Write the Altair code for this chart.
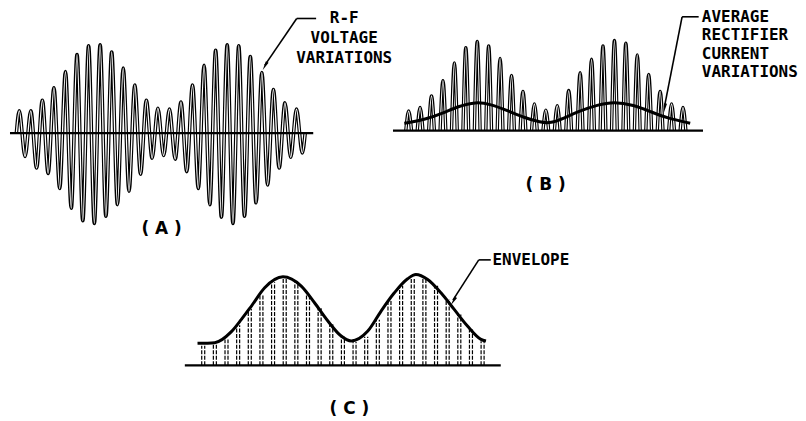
import altair as alt
import pandas as pd

# ---------------- data (normalised amplitude units) ----------------
# (A) R-F voltage: positive peak and negative trough of each of the 25 carrier cycles
a_pos = [0.25, 0.25, 0.37, 0.51, 0.69, 0.88, 0.98, 0.99, 0.91, 0.73, 0.54, 0.37, 0.28,
         0.27, 0.35, 0.54, 0.76, 0.93, 0.99, 0.98, 0.86, 0.68, 0.49, 0.34, 0.27]
a_neg = [0.26, 0.39, 0.45, 0.62, 0.84, 0.98, 1.01, 0.93, 0.80, 0.65, 0.46, 0.28, 0.25,
         0.29, 0.43, 0.62, 0.80, 0.94, 1.01, 0.93, 0.78, 0.58, 0.39, 0.27, 0.22]
# (B) rectified current pulses and their average
b_pulse = [0.22, 0.26, 0.39, 0.56, 0.76, 0.93, 1.00, 0.95, 0.81, 0.62, 0.44, 0.30, 0.23,
           0.28, 0.45, 0.65, 0.80, 0.95, 1.01, 0.98, 0.85, 0.63, 0.44, 0.30, 0.26]
b_avg_t = [-0.13, 1.61, 3.36, 4.53, 6.13, 7.43, 8.89, 10.34, 11.8, 12.67, 13.83, 15.29,
           16.75, 18.19, 19.94, 21.39, 22.85, 24.88]
b_avg_v = [0.084, 0.12, 0.203, 0.27, 0.326, 0.296, 0.226, 0.147, 0.092, 0.084, 0.14,
           0.226, 0.288, 0.326, 0.288, 0.215, 0.14, 0.084]
# (C) envelope and the pulses under it
c_env_t = [-0.24, 1.24, 2.67, 3.53, 4.39, 5.53, 7.10, 8.67, 9.81, 10.96, 12.10, 12.96,
           14.39, 15.53, 16.67, 17.81, 18.52, 19.53, 20.67, 21.81, 22.95, 24.11, 24.54]
c_env_v = [0.246, 0.254, 0.377, 0.514, 0.664, 0.868, 0.991, 0.887, 0.701, 0.496, 0.328,
           0.273, 0.384, 0.608, 0.812, 0.969, 1.017, 0.961, 0.812, 0.626, 0.440, 0.291, 0.273]
c_pulse = [0.22, 0.23, 0.30, 0.45, 0.63, 0.79, 0.93, 0.97, 0.93, 0.80, 0.64, 0.46, 0.32,
           0.26, 0.32, 0.51, 0.72, 0.89, 0.98, 0.97, 0.89, 0.74, 0.57, 0.40, 0.27]

label_a = ["R-F", "VOLTAGE", "VARIATIONS"]
label_b = ["AVERAGE", "RECTIFIER", "CURRENT", "VARIATIONS"]
label_c = ["ENVELOPE"]
panel_names = ["( A )", "( B )", "( C )"]

# ---------------- layout (pixels) ----------------
W, H = 790, 405
UNIT = 89.5  # px per amplitude unit


def domains(t0, ppc, base):
    # t0: page x of t=0, ppc: px per carrier cycle, base: page y of the zero line
    xd = [(8 - t0) / ppc, (8 + W - t0) / ppc]
    yd = [-(8 + H - base) / UNIT, (base - 8) / UNIT]
    return xd, yd


AX, AY = domains(14.4, 11.58, 130)
BX, BY = domains(404.8, 11.46, 127.5)
CX, CY = domains(198.8, 11.67, 362.7)

FONT = "DejaVu Sans Mono"
LFONT = "DejaVu Sans"
ARROW = "M0,-1L0.32,1L-0.32,1Z"


def xs(dom):
    return alt.Scale(domain=dom, nice=False, zero=False)


def enc(dom_x, dom_y, x="t", y="v", **kw):
    return dict(
        x=alt.X(x, type="quantitative", scale=xs(dom_x), axis=None),
        y=alt.Y(y, type="quantitative", scale=xs(dom_y), axis=None),
        **kw,
    )


def leader(dom_x, dom_y, pts, tip, angle, offs):
    segs = pd.DataFrame(
        [dict(t=pts[i][0], v=pts[i][1], t2=pts[i + 1][0], v2=pts[i + 1][1]) for i in range(len(pts) - 1)]
    )
    line = alt.Chart(segs).mark_rule(color="black", strokeWidth=1.6).encode(
        **enc(dom_x, dom_y), x2="t2", y2="v2"
    )
    head = alt.Chart(pd.DataFrame([dict(t=tip[0], v=tip[1])])).mark_point(
        shape=ARROW, filled=True, size=90, angle=angle, color="black", opacity=1,
        xOffset=offs[0], yOffset=offs[1],
    ).encode(**enc(dom_x, dom_y))
    return [line, head]


def text_block(dom_x, dom_y, lines, t, v, align, lh, size=16):
    df = pd.DataFrame([dict(t=t, v=v, txt="\n".join(lines))])
    return alt.Chart(df).mark_text(
        font=FONT, fontWeight="bold", fontSize=size, align=align, baseline="middle",
        lineBreak="\n", lineHeight=lh, color="black",
    ).encode(**enc(dom_x, dom_y), text="txt")


def panel_label(dom_x, dom_y, name, t, v):
    df = pd.DataFrame([dict(t=t, v=v, txt=name)])
    return alt.Chart(df).mark_text(
        font=LFONT, fontWeight="bold", fontSize=17, align="center", baseline="middle", color="black"
    ).encode(**enc(dom_x, dom_y), text="txt")


# ---------------- panel A ----------------
rows = [dict(t=0.0, v=0.0)]
for k in range(len(a_pos)):
    rows.append(dict(t=k + 0.25, v=a_pos[k]))
    rows.append(dict(t=k + 0.75, v=-a_neg[k]))
rows.append(dict(t=float(len(a_pos)), v=0.0))
wave = pd.DataFrame(rows)

layers = [
    alt.Chart(wave).mark_line(interpolate="monotone", color="black", strokeWidth=3.6).encode(**enc(AX, AY)),
    alt.Chart(wave).mark_line(interpolate="monotone", color="white", strokeWidth=1.3).encode(**enc(AX, AY)),
    alt.Chart(pd.DataFrame([dict(t=AX[0], t2=25.7, v=0.0)])).mark_rule(color="black", strokeWidth=2.2)
    .encode(**enc(AX, AY), x2="t2"),
    text_block(AX, AY, label_a, 28.38, 1.285, "center", 20),
    panel_label(AX, AY, panel_names[0], 12.57, -1.078),
]
layers += leader(AX, AY, [(25.95, 1.285), (24.27, 1.285), (21.5, 0.76)], (21.3, 0.70), 209.5, (2.5, -4.5))

# ---------------- panel B ----------------
rows = []
for k, h in enumerate(b_pulse):
    rows += [dict(t=k, v=0.0, p=k), dict(t=k + 0.25, v=h, p=k), dict(t=k + 0.5, v=0.0, p=k)]
pulses = pd.DataFrame(rows)
avg = pd.DataFrame(dict(t=b_avg_t, v=b_avg_v))

layers += [
    alt.Chart(pulses).mark_line(interpolate="monotone", color="black", strokeWidth=3.4)
    .encode(**enc(BX, BY), detail="p:N"),
    alt.Chart(pulses).mark_line(interpolate="monotone", color="white", strokeWidth=1.2)
    .encode(**enc(BX, BY), detail="p:N"),
    alt.Chart(pd.DataFrame([dict(t=-1.12, t2=26.0, v=0.0)])).mark_rule(color="black", strokeWidth=2.2)
    .encode(**enc(BX, BY), x2="t2"),
    alt.Chart(avg).mark_line(interpolate="basis", color="black", strokeWidth=3).encode(**enc(BX, BY)),
    text_block(BX, BY, label_b, 25.9, 1.276, "left", 18.5),
    panel_label(BX, BY, panel_names[1], 12.23, -0.606),
]
layers += leader(BX, BY, [(25.62, 1.276), (24.17, 1.276), (22.63, 0.27)], (22.56, 0.196), 190.8, (1, -5))

# ---------------- panel C ----------------
env = pd.DataFrame(dict(t=c_env_t, v=c_env_v))
cp = pd.DataFrame(dict(t=[k + 0.25 for k in range(len(c_pulse))], v=[0.0] * len(c_pulse), h=c_pulse))

layers += [
    alt.Chart(cp).mark_rule(color="black", strokeWidth=1.2, strokeDash=[4, 1.5], xOffset=-1.5)
    .encode(**enc(CX, CY), y2="h"),
    alt.Chart(cp).mark_rule(color="black", strokeWidth=1.2, strokeDash=[4, 1.5], xOffset=1.5)
    .encode(**enc(CX, CY), y2="h"),
    alt.Chart(pd.DataFrame([dict(t=-1.33, t2=25.81, v=0.0)])).mark_rule(color="black", strokeWidth=2.2)
    .encode(**enc(CX, CY), x2="t2"),
    alt.Chart(env).mark_line(interpolate="monotone", color="black", strokeWidth=3).encode(**enc(CX, CY)),
    text_block(CX, CY, label_c, 25.1, 1.181, "left", 18),
    panel_label(CX, CY, panel_names[2], 12.81, -0.49),
]
layers += leader(CX, CY, [(24.95, 1.181), (23.92, 1.181), (21.7, 0.73)], (21.52, 0.667), 211.3, (2.5, -4.5))

chart = (
    alt.layer(*layers)
    .resolve_scale(x="independent", y="independent")
    .properties(width=W, height=H, padding=0, background="white")
    .configure_view(stroke=None)
)

chart.save("out.html", embed_options={"renderer": "svg", "actions": False})
